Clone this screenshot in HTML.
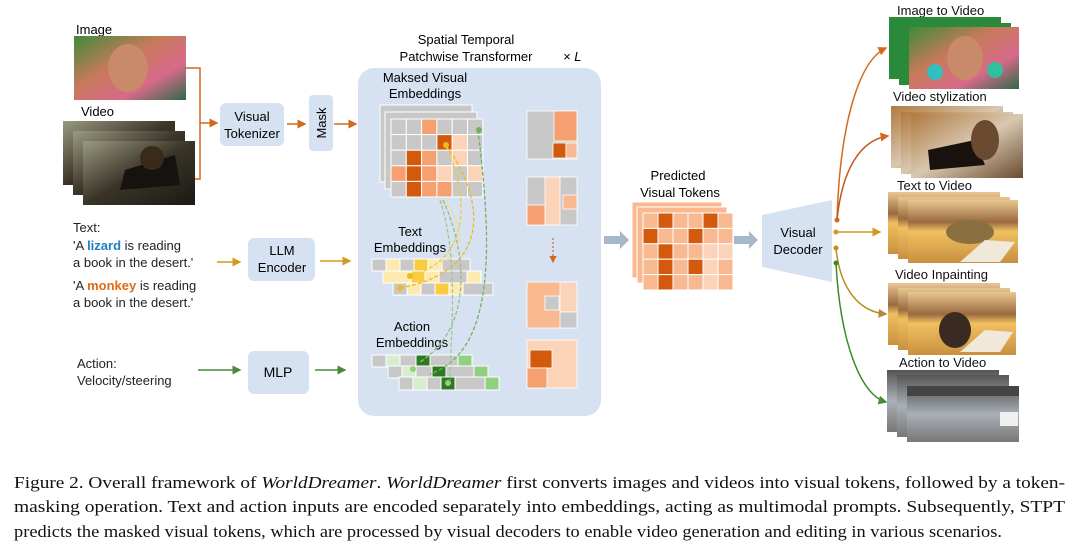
<!DOCTYPE html>
<html><head><meta charset="utf-8"><style>
html,body{margin:0;padding:0;background:#fff;}
svg{display:block;}
text{font-family:"Liberation Sans",sans-serif;}
.cap{font-family:"Liberation Serif",serif;font-size:17px;fill:#111;}
</style></head><body>
<svg width="1080" height="550" viewBox="0 0 1080 550" xmlns="http://www.w3.org/2000/svg">
<defs>
<linearGradient id="img1" x1="0" y1="0" x2="1" y2="1"><stop offset="0" stop-color="#3f8a3a"/><stop offset="0.4" stop-color="#c77a5a"/><stop offset="0.7" stop-color="#d86a8a"/><stop offset="1" stop-color="#2f6a4a"/></linearGradient>
<linearGradient id="vid" x1="0" y1="0" x2="1" y2="1"><stop offset="0" stop-color="#9a9a80"/><stop offset="0.5" stop-color="#3a3428"/><stop offset="1" stop-color="#1a1a14"/></linearGradient>
<linearGradient id="sty" x1="0" y1="0" x2="1" y2="1"><stop offset="0" stop-color="#b07a40"/><stop offset="0.5" stop-color="#d8c8b0"/><stop offset="1" stop-color="#6a4a30"/></linearGradient>
<linearGradient id="des" x1="0" y1="0" x2="0" y2="1"><stop offset="0" stop-color="#e8c890"/><stop offset="0.35" stop-color="#9a6a40"/><stop offset="0.5" stop-color="#f0c060"/><stop offset="1" stop-color="#c89040"/></linearGradient>
<linearGradient id="road" x1="0" y1="0" x2="0" y2="1"><stop offset="0" stop-color="#555"/><stop offset="0.5" stop-color="#aab0b8"/><stop offset="1" stop-color="#777"/></linearGradient>
<marker id="ao" markerWidth="6" markerHeight="6" refX="5" refY="3" orient="auto"><path d="M0,0 L6,3 L0,6z" fill="#d2691e"/></marker>
<marker id="ay" markerWidth="6" markerHeight="6" refX="5" refY="3" orient="auto"><path d="M0,0 L6,3 L0,6z" fill="#d49a20"/></marker>
<marker id="ag" markerWidth="6" markerHeight="6" refX="5" refY="3" orient="auto"><path d="M0,0 L6,3 L0,6z" fill="#4a8a3a"/></marker>
<marker id="ab" markerWidth="6" markerHeight="6" refX="5" refY="3" orient="auto"><path d="M0,0 L6,3 L0,6z" fill="#b8863a"/></marker>
</defs>

<!-- Left inputs -->
<text x="76" y="34" font-size="13">Image</text>
<rect x="74" y="36" width="112" height="64" fill="url(#img1)"/>
<ellipse cx="128" cy="68" rx="20" ry="24" fill="#c98a6a"/>
<text x="81" y="116" font-size="13">Video</text>
<rect x="63" y="121" width="112" height="64" fill="url(#vid)"/>
<rect x="73" y="131" width="112" height="64" fill="url(#vid)"/>
<rect x="83" y="141" width="112" height="64" fill="url(#vid)"/>
<path d="M125,170 L175,155 L180,185 L120,190z" fill="#151210"/>
<ellipse cx="152" cy="158" rx="12" ry="12" fill="#3a2a1a"/>
<path d="M186,68 H200 V179 H195" fill="none" stroke="#d2691e" stroke-width="1.5"/>
<line x1="200" y1="123" x2="217" y2="123" stroke="#d2691e" stroke-width="1.5" marker-end="url(#ao)"/>
<rect x="220" y="103" width="64" height="43" rx="6" fill="#d6e2f2"/>
<text x="252" y="121" font-size="13" text-anchor="middle">Visual</text>
<text x="252" y="138" font-size="13" text-anchor="middle">Tokenizer</text>
<line x1="287" y1="124" x2="305" y2="124" stroke="#d2691e" stroke-width="1.5" marker-end="url(#ao)"/>
<rect x="309" y="95" width="24" height="56" rx="4" fill="#d6e2f2"/>
<text transform="translate(326,123) rotate(-90)" font-size="13" text-anchor="middle">Mask</text>
<line x1="334" y1="124" x2="356" y2="124" stroke="#d2691e" stroke-width="1.5" marker-end="url(#ao)"/>

<g font-size="13" fill="#222">
<text x="73" y="232">Text:</text>
<text x="73" y="250">'A <tspan fill="#1f7fc0" font-weight="bold">lizard</tspan> is reading</text>
<text x="73" y="267">a book in the desert.'</text>
<text x="73" y="290">'A <tspan fill="#e06a10" font-weight="bold">monkey</tspan> is reading</text>
<text x="73" y="307">a book in the desert.'</text>
<text x="77" y="368">Action:</text>
<text x="77" y="385">Velocity/steering</text>
</g>
<line x1="217" y1="262" x2="240" y2="262" stroke="#d49a20" stroke-width="1.5" marker-end="url(#ay)"/>
<rect x="248" y="238" width="67" height="43" rx="6" fill="#d6e2f2"/>
<text x="282" y="255" font-size="13" text-anchor="middle">LLM</text>
<text x="282" y="272" font-size="13" text-anchor="middle">Encoder</text>
<line x1="320" y1="261" x2="350" y2="261" stroke="#d49a20" stroke-width="1.5" marker-end="url(#ay)"/>
<line x1="198" y1="370" x2="240" y2="370" stroke="#4a8a3a" stroke-width="1.5" marker-end="url(#ag)"/>
<rect x="248" y="351" width="61" height="43" rx="6" fill="#d6e2f2"/>
<text x="278" y="377" font-size="14" text-anchor="middle">MLP</text>
<line x1="315" y1="370" x2="345" y2="370" stroke="#4a8a3a" stroke-width="1.5" marker-end="url(#ag)"/>

<!-- Transformer panel -->
<text x="466" y="44" font-size="13" text-anchor="middle">Spatial Temporal</text>
<text x="466" y="61" font-size="13" text-anchor="middle">Patchwise Transformer</text>
<text x="563" y="61" font-size="13" font-style="italic">× L</text>
<rect x="358" y="68" width="243" height="348" rx="16" fill="#d6e2f2"/>
<text x="425" y="82" font-size="13" text-anchor="middle">Maksed Visual</text>
<text x="425" y="98" font-size="13" text-anchor="middle">Embeddings</text>

<!-- masked grid back layers -->
<rect x="380" y="105" width="92" height="77" fill="#c8c8c8" stroke="#fff" stroke-width="1"/>
<rect x="385" y="112" width="92" height="77" fill="#c8c8c8" stroke="#fff" stroke-width="1"/>
<g stroke="#fff" stroke-width="1">
<rect x="391" y="119" width="15.3" height="15.6" fill="#c8c8c8"/><rect x="406.3" y="119" width="15.3" height="15.6" fill="#c8c8c8"/><rect x="421.6" y="119" width="15.3" height="15.6" fill="#f4a070"/><rect x="436.9" y="119" width="15.3" height="15.6" fill="#c8c8c8"/><rect x="452.2" y="119" width="15.3" height="15.6" fill="#c8c8c8"/><rect x="467.5" y="119" width="15.3" height="15.6" fill="#c8c8c8"/>
<rect x="391" y="134.6" width="15.3" height="15.6" fill="#c8c8c8"/><rect x="406.3" y="134.6" width="15.3" height="15.6" fill="#c8c8c8"/><rect x="421.6" y="134.6" width="15.3" height="15.6" fill="#c8c8c8"/><rect x="436.9" y="134.6" width="15.3" height="15.6" fill="#d35a0c"/><rect x="452.2" y="134.6" width="15.3" height="15.6" fill="#fbd3b8"/><rect x="467.5" y="134.6" width="15.3" height="15.6" fill="#c8c8c8"/>
<rect x="391" y="150.2" width="15.3" height="15.6" fill="#c8c8c8"/><rect x="406.3" y="150.2" width="15.3" height="15.6" fill="#d35a0c"/><rect x="421.6" y="150.2" width="15.3" height="15.6" fill="#f4a070"/><rect x="436.9" y="150.2" width="15.3" height="15.6" fill="#c8c8c8"/><rect x="452.2" y="150.2" width="15.3" height="15.6" fill="#fbd3b8"/><rect x="467.5" y="150.2" width="15.3" height="15.6" fill="#c8c8c8"/>
<rect x="391" y="165.8" width="15.3" height="15.6" fill="#f4a070"/><rect x="406.3" y="165.8" width="15.3" height="15.6" fill="#d35a0c"/><rect x="421.6" y="165.8" width="15.3" height="15.6" fill="#f4a070"/><rect x="436.9" y="165.8" width="15.3" height="15.6" fill="#fbd3b8"/><rect x="452.2" y="165.8" width="15.3" height="15.6" fill="#c8c8c8"/><rect x="467.5" y="165.8" width="15.3" height="15.6" fill="#fbd3b8"/>
<rect x="391" y="181.4" width="15.3" height="15.6" fill="#c8c8c8"/><rect x="406.3" y="181.4" width="15.3" height="15.6" fill="#d35a0c"/><rect x="421.6" y="181.4" width="15.3" height="15.6" fill="#f4a070"/><rect x="436.9" y="181.4" width="15.3" height="15.6" fill="#f4a070"/><rect x="452.2" y="181.4" width="15.3" height="15.6" fill="#c8c8c8"/><rect x="467.5" y="181.4" width="15.3" height="15.6" fill="#c8c8c8"/>
</g>

<text x="410" y="236" font-size="13" text-anchor="middle">Text</text>
<text x="410" y="252" font-size="13" text-anchor="middle">Embeddings</text>
<g stroke="#fff" stroke-width="1">
<rect x="372" y="259" width="98" height="12" fill="#c8c8c8"/><rect x="386" y="259" width="14" height="12" fill="#fdeab0"/><rect x="414" y="259" width="14" height="12" fill="#f8cc40"/><rect x="428" y="259" width="14" height="12" fill="#fdeab0"/>
<rect x="383" y="271" width="98" height="12" fill="#fdeab0"/><rect x="411" y="271" width="14" height="12" fill="#f8cc40"/><rect x="439" y="271" width="28" height="12" fill="#c8c8c8"/>
<rect x="393" y="283" width="100" height="12" fill="#c8c8c8"/><rect x="407" y="283" width="14" height="12" fill="#fdeab0"/><rect x="435" y="283" width="14" height="12" fill="#f8cc40"/><rect x="449" y="283" width="14" height="12" fill="#fdeab0"/>
</g>

<text x="412" y="331" font-size="13" text-anchor="middle">Action</text>
<text x="412" y="347" font-size="13" text-anchor="middle">Embeddings</text>
<g stroke="#fff" stroke-width="1">
<rect x="372" y="355" width="98" height="12" fill="#c8c8c8"/><rect x="386" y="355" width="14" height="12" fill="#d8ecd0"/><rect x="416" y="355" width="14" height="12" fill="#2e7a20"/><rect x="458" y="355" width="14" height="12" fill="#90d080"/>
<rect x="388" y="366" width="98" height="12" fill="#c8c8c8"/><rect x="402" y="366" width="14" height="12" fill="#d8ecd0"/><rect x="432" y="366" width="14" height="12" fill="#2e7a20"/><rect x="474" y="366" width="14" height="12" fill="#90d080"/>
<rect x="399" y="377" width="100" height="13" fill="#c8c8c8"/><rect x="413" y="377" width="14" height="13" fill="#d8ecd0"/><rect x="441" y="377" width="14" height="13" fill="#2e7a20"/><rect x="485" y="377" width="14" height="13" fill="#90d080"/>
</g>

<!-- dashed attention curves -->
<g fill="none" stroke-width="1.3" stroke-dasharray="4,2">
<path d="M446,146 C480,190 500,270 400,288" stroke="#f0b820"/>
<path d="M446,146 C470,200 470,260 410,276" stroke="#f0c840"/>
<path d="M443,200 C470,230 460,262 438,262" stroke="#f5d880"/>
<path d="M478,130 C490,230 500,350 430,374" stroke="#70b060"/>
<path d="M443,200 C470,260 470,330 420,362" stroke="#90c080"/>
<path d="M440,200 C460,260 450,340 450,380" stroke="#a0c890"/>
</g>
<circle cx="446" cy="145" r="3" fill="#f0b820"/><circle cx="479" cy="130" r="3" fill="#70b060"/>
<circle cx="400" cy="288" r="3" fill="#f0b820"/><circle cx="410" cy="276" r="3" fill="#f0b820"/>
<circle cx="413" cy="369" r="3" fill="#90d080"/><circle cx="448" cy="383" r="3" fill="#90d080"/>

<!-- small grids right in panel -->
<g stroke="#fff" stroke-width="0.8">
<rect x="527" y="111" width="50" height="48" fill="#c8c8c8"/><rect x="554" y="111" width="23" height="30" fill="#f4a070"/><rect x="553" y="143" width="13" height="15" fill="#d35a0c"/><rect x="566" y="143" width="11" height="15" fill="#f8b890"/>
<rect x="527" y="177" width="50" height="48" fill="#c8c8c8"/><rect x="545" y="177" width="15" height="48" fill="#fbd3b8"/><rect x="527" y="205" width="18" height="20" fill="#f4a070"/><rect x="563" y="195" width="14" height="14" fill="#f8b890"/>
<rect x="527" y="282" width="50" height="46" fill="#f8b890"/><rect x="560" y="282" width="17" height="30" fill="#fbd3b8"/><rect x="560" y="312" width="17" height="16" fill="#c8c8c8"/><rect x="545" y="296" width="14" height="14" fill="#c8c8c8"/>
<rect x="527" y="340" width="50" height="48" fill="#fbd3b8"/><rect x="530" y="350" width="22" height="18" fill="#d35a0c"/><rect x="527" y="368" width="20" height="20" fill="#f4a070"/>
</g>
<line x1="553" y1="238" x2="553" y2="262" stroke="#d2691e" stroke-width="1.2" stroke-dasharray="2,2" marker-end="url(#ao)"/>

<!-- gray arrows -->
<path d="M604,236 H620 V231 L629,240 L620,249 V244 H604z" fill="#a8b8cc"/>
<path d="M734,236 H749 V231 L758,240 L749,249 V244 H734z" fill="#a8b8cc"/>

<!-- predicted tokens -->
<text x="678" y="180" font-size="13" text-anchor="middle">Predicted</text>
<text x="680" y="197" font-size="13" text-anchor="middle">Visual Tokens</text>
<rect x="632" y="202" width="90" height="76" fill="#f8b890" stroke="#fff"/>
<rect x="637" y="207" width="90" height="76" fill="#f8b890" stroke="#fff"/>
<g stroke="#fff" stroke-width="1">
<rect x="643" y="213" width="15" height="15.4" fill="#f8b890"/><rect x="658" y="213" width="15" height="15.4" fill="#d35a0c"/><rect x="673" y="213" width="15" height="15.4" fill="#f8b890"/><rect x="688" y="213" width="15" height="15.4" fill="#f8b890"/><rect x="703" y="213" width="15" height="15.4" fill="#d35a0c"/><rect x="718" y="213" width="15" height="15.4" fill="#f8b890"/>
<rect x="643" y="228.4" width="15" height="15.4" fill="#d35a0c"/><rect x="658" y="228.4" width="15" height="15.4" fill="#f8b890"/><rect x="673" y="228.4" width="15" height="15.4" fill="#f8b890"/><rect x="688" y="228.4" width="15" height="15.4" fill="#d35a0c"/><rect x="703" y="228.4" width="15" height="15.4" fill="#f8b890"/><rect x="718" y="228.4" width="15" height="15.4" fill="#f8b890"/>
<rect x="643" y="243.8" width="15" height="15.4" fill="#f8b890"/><rect x="658" y="243.8" width="15" height="15.4" fill="#d35a0c"/><rect x="673" y="243.8" width="15" height="15.4" fill="#f8b890"/><rect x="688" y="243.8" width="15" height="15.4" fill="#f8b890"/><rect x="703" y="243.8" width="15" height="15.4" fill="#fbd3b8"/><rect x="718" y="243.8" width="15" height="15.4" fill="#fbd3b8"/>
<rect x="643" y="259.2" width="15" height="15.4" fill="#f8b890"/><rect x="658" y="259.2" width="15" height="15.4" fill="#d35a0c"/><rect x="673" y="259.2" width="15" height="15.4" fill="#f8b890"/><rect x="688" y="259.2" width="15" height="15.4" fill="#d35a0c"/><rect x="703" y="259.2" width="15" height="15.4" fill="#fbd3b8"/><rect x="718" y="259.2" width="15" height="15.4" fill="#f8b890"/>
<rect x="643" y="274.6" width="15" height="15.4" fill="#f8b890"/><rect x="658" y="274.6" width="15" height="15.4" fill="#d35a0c"/><rect x="673" y="274.6" width="15" height="15.4" fill="#f8b890"/><rect x="688" y="274.6" width="15" height="15.4" fill="#f8b890"/><rect x="703" y="274.6" width="15" height="15.4" fill="#fbd3b8"/><rect x="718" y="274.6" width="15" height="15.4" fill="#f8b890"/>
</g>

<!-- visual decoder -->
<path d="M762,215 L832,200 L832,282 L762,267z" fill="#d6e2f2"/>
<text x="798" y="237" font-size="13" text-anchor="middle">Visual</text>
<text x="798" y="254" font-size="13" text-anchor="middle">Decoder</text>

<!-- output arrows -->
<g fill="none" stroke-width="1.5">
<path d="M837,220 C840,120 860,60 886,48" stroke="#d2691e" marker-end="url(#ao)"/>
<path d="M837,220 C842,170 860,140 888,136" stroke="#c0581a" marker-end="url(#ao)"/>
<path d="M836,232 H880" stroke="#d49a20" marker-end="url(#ay)"/>
<path d="M836,248 C840,290 860,312 886,314" stroke="#b8901a" marker-end="url(#ab)"/>
<path d="M836,263 C840,340 860,395 886,402" stroke="#3a8a2a" marker-end="url(#ag)"/>
</g>
<circle cx="837" cy="220" r="2.5" fill="#d2691e"/><circle cx="836" cy="232" r="2.5" fill="#d49a20"/><circle cx="836" cy="248" r="2.5" fill="#b8901a"/><circle cx="836" cy="263" r="2.5" fill="#3a8a2a"/>

<!-- outputs -->
<g font-size="13" fill="#111">
<text x="897" y="15">Image to Video</text>
<text x="893" y="101">Video stylization</text>
<text x="897" y="190">Text to Video</text>
<text x="895" y="279">Video Inpainting</text>
<text x="899" y="367">Action to Video</text>
</g>
<rect x="889" y="17" width="112" height="62" fill="#2a8a3a"/>
<rect x="899" y="23" width="112" height="62" fill="#2a8a3a"/>
<rect x="909" y="27" width="110" height="62" fill="url(#img1)"/>
<ellipse cx="965" cy="58" rx="18" ry="22" fill="#c98a6a"/>
<circle cx="935" cy="72" r="8" fill="#30c0c0"/><circle cx="995" cy="70" r="8" fill="#30c0a0"/>

<rect x="891" y="106" width="112" height="62" fill="url(#sty)"/>
<rect x="901" y="112" width="112" height="62" fill="url(#sty)"/>
<rect x="911" y="114" width="112" height="64" fill="url(#sty)"/>
<path d="M928,150 L975,140 L985,165 L930,170z" fill="#1a120e"/>
<ellipse cx="985" cy="140" rx="14" ry="20" fill="#6a4a30"/>

<rect x="888" y="192" width="112" height="62" fill="url(#des)"/>
<rect x="898" y="197" width="112" height="62" fill="url(#des)"/>
<rect x="908" y="200" width="110" height="63" fill="url(#des)"/>
<ellipse cx="970" cy="232" rx="24" ry="12" fill="#8a7040"/>
<path d="M960,262 L985,240 L1015,242 L1000,262z" fill="#f0e8d8"/>

<rect x="888" y="283" width="112" height="62" fill="url(#des)"/>
<rect x="898" y="288" width="112" height="62" fill="url(#des)"/>
<rect x="908" y="292" width="108" height="63" fill="url(#des)"/>
<ellipse cx="955" cy="330" rx="16" ry="18" fill="#3a2a22"/>
<path d="M960,352 L985,330 L1013,332 L1000,352z" fill="#f0e8d8"/>

<rect x="887" y="370" width="112" height="62" fill="url(#road)"/>
<rect x="897" y="375" width="112" height="62" fill="url(#road)"/>
<rect x="907" y="386" width="112" height="56" fill="url(#road)"/>
<rect x="907" y="386" width="112" height="10" fill="#444"/>
<rect x="1000" y="412" width="18" height="14" fill="#f0f0f0"/>

<!-- caption -->
<text class="cap" x="14" y="488" textLength="1051" lengthAdjust="spacingAndGlyphs">Figure 2. Overall framework of <tspan font-style="italic">WorldDreamer</tspan>. <tspan font-style="italic">WorldDreamer</tspan> first converts images and videos into visual tokens, followed by a token-</text>
<text class="cap" x="14" y="512" textLength="1051" lengthAdjust="spacingAndGlyphs">masking operation.  Text and action inputs are encoded separately into embeddings, acting as multimodal prompts. Subsequently, STPT</text>
<text class="cap" x="14" y="537" textLength="988" lengthAdjust="spacingAndGlyphs">predicts the masked visual tokens, which are processed by visual decoders to enable video generation and editing in various scenarios.</text>
</svg>
</body></html>
